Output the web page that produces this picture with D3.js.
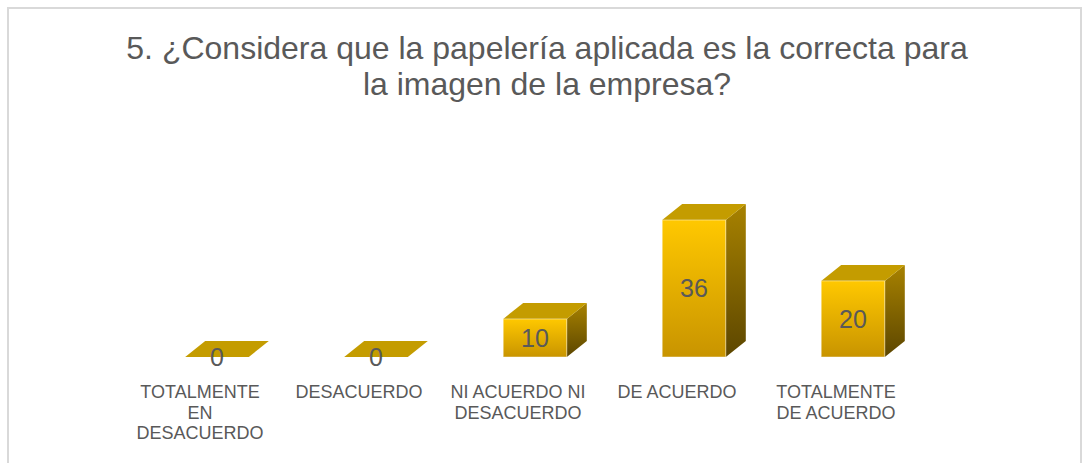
<!DOCTYPE html>
<html>
<head>
<meta charset="utf-8">
<script src="https://cdn.jsdelivr.net/npm/d3@7"></script>
<style>
  body { margin: 0; background: #fff; }
  svg { display: block; font-family: "Liberation Sans", Arial, sans-serif; }
</style>
</head>
<body>
<div id="chart"></div>
<script>
var width = 1082, height = 463;

var titleLines = ["5. ¿Considera que la papelería aplicada es la correcta para", "la imagen de la empresa?"];
var categories = ["TOTALMENTE\nEN\nDESACUERDO", "DESACUERDO", "NI ACUERDO NI\nDESACUERDO", "DE ACUERDO", "TOTALMENTE\nDE ACUERDO"];
var values = [0, 0, 10, 36, 20];

var depthX = 20, depthY = -16;

var svg = d3.select('#chart')
  .append('svg')
  .attr('width', width)
  .attr('height', height);

var defs = svg.append('defs');

var front = defs.append('linearGradient')
  .attr('id', 'front')
  .attr('x1', 0).attr('y1', 0).attr('x2', 0).attr('y2', 1);
front.append('stop').attr('offset', '0%').attr('stop-color', '#ffc800');
front.append('stop').attr('offset', '100%').attr('stop-color', '#c89400');

var side = defs.append('linearGradient')
  .attr('id', 'side')
  .attr('x1', 0).attr('y1', 0).attr('x2', 0).attr('y2', 1);
side.append('stop').attr('offset', '0%').attr('stop-color', '#a88200');
side.append('stop').attr('offset', '100%').attr('stop-color', '#5c4600');

// chart border
svg.append('rect')
  .attr('x', 8)
  .attr('y', 8)
  .attr('width', 1073)
  .attr('height', 470)
  .attr('fill', 'none')
  .attr('stroke', '#d9d9d9')
  .attr('stroke-width', 2);

svg.append('g')
  .selectAll('text')
  .data(titleLines)
  .enter().append('text')
  .attr('x', 547)
  .attr('y', function (d, i) { return 59 + i * 36; })
  .attr('text-anchor', 'middle')
  .style('font-size', '32px')
  .style('fill', '#595959')
  .text(function (d) { return d; });

var x = d3.scaleBand()
  .domain(categories)
  .range([137.5, 932.5])
  .paddingInner(0.6)
  .paddingOuter(0.3);

var y = d3.scaleLinear()
  .domain([0, 36])
  .range([357, 220]);

var data = categories.map(function (c, i) { return {key: c, value: values[i]}; });

var bar = svg.append('g')
  .selectAll('.bar')
  .data(data)
  .enter().append('g')
  .attr('class', 'bar');

bar.filter(function (d) { return d.value > 0; })
  .append('path')
  .attr('fill', 'url(#side)')
  .attr('d', function (d) {
    var x1 = x(d.key) + x.bandwidth(), y0 = y(0), y1 = y(d.value);
    return 'M' + x1 + ',' + y0 + 'L' + x1 + ',' + y1 +
      'L' + (x1 + depthX) + ',' + (y1 + depthY) + 'L' + (x1 + depthX) + ',' + (y0 + depthY) + 'Z';
  });

bar.append('path')
  .attr('fill', '#c49c00')
  .attr('d', function (d) {
    var x0 = x(d.key), x1 = x0 + x.bandwidth(), y1 = y(d.value);
    return 'M' + x0 + ',' + y1 + 'L' + x1 + ',' + y1 +
      'L' + (x1 + depthX) + ',' + (y1 + depthY) + 'L' + (x0 + depthX) + ',' + (y1 + depthY) + 'Z';
  });

bar.filter(function (d) { return d.value > 0; })
  .append('rect')
  .attr('x', function (d) { return x(d.key); })
  .attr('y', function (d) { return y(d.value); })
  .attr('width', x.bandwidth())
  .attr('height', function (d) { return y(0) - y(d.value); })
  .attr('fill', 'url(#front)')
  .attr('stroke', 'rgba(255,255,255,0.45)')
  .attr('stroke-width', 1);

bar.append('text')
  .attr('x', function (d) { return x(d.key) + x.bandwidth() / 2; })
  .attr('y', function (d) { return (y(0) + y(d.value)) / 2; })
  .attr('dy', '0.35em')
  .attr('text-anchor', 'middle')
  .style('font-size', '25px')
  .style('fill', '#595959')
  .text(function (d) { return d.value; });

var labels = svg.append('g')
  .selectAll('text')
  .data(categories)
  .enter().append('text')
  .attr('text-anchor', 'middle')
  .style('font-size', '18px')
  .style('fill', '#595959')
  .attr('transform', function (d) {
    return 'translate(' + (x(d) + x.bandwidth() / 2 - 17) + ',398)';
  });

labels.selectAll('tspan')
  .data(function (d) { return d.split('\n'); })
  .enter().append('tspan')
  .attr('x', 0)
  .attr('y', function (d, i) { return i * 20.5; })
  .text(function (d) { return d; });
</script>
</body>
</html>
